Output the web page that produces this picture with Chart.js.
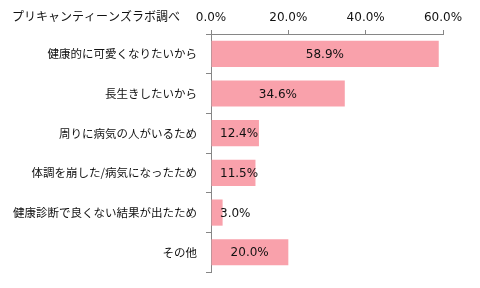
<!DOCTYPE html>
<html>
<head>
<meta charset="utf-8">
<script src="https://cdn.jsdelivr.net/npm/chart.js@4/dist/chart.umd.min.js"></script>
<style>
  html, body { margin: 0; padding: 0; background: #fff; }
  #wrap { position: relative; width: 480px; height: 288px; }
</style>
</head>
<body>
<div id="wrap"><canvas id="barChart"></canvas></div>
<script>
var categories = [
  '健康的に可愛くなりたいから',
  '長生きしたいから',
  '周りに病気の人がいるため',
  '体調を崩した/病気になったため',
  '健康診断で良くない結果が出たため',
  'その他'
];
var values = [58.9, 34.6, 12.4, 11.5, 3.0, 20.0];
var xTicks = [0, 20, 40, 60];
var sourceNote = 'プリキャンティーンズラボ調べ';

var labelFont = '"Noto Sans CJK JP", sans-serif';
var numFont = '"DejaVu Sans", Verdana, sans-serif';

// data labels: centered, but pushed right when too close to the axis
var valueLabels = {
  id: 'valueLabels',
  afterDatasetsDraw: function (chart) {
    var ctx = chart.ctx;
    var meta = chart.getDatasetMeta(0);
    var x0 = chart.scales.x.getPixelForValue(0);
    ctx.save();
    ctx.font = '12px ' + numFont;
    ctx.fillStyle = '#111';
    ctx.textAlign = 'center';
    ctx.textBaseline = 'middle';
    meta.data.forEach(function (bar, i) {
      var txt = values[i].toFixed(1) + '%';
      var w = ctx.measureText(txt).width;
      var cx = Math.max((x0 + bar.x) / 2, x0 + 9 + w / 2);
      ctx.fillText(txt, cx, bar.y + 1);
    });
    ctx.restore();
  }
};

var noteText = {
  id: 'noteText',
  afterDraw: function (chart) {
    var ctx = chart.ctx;
    ctx.save();
    ctx.font = '12px ' + labelFont;
    ctx.fillStyle = '#111';
    ctx.textBaseline = 'middle';
    ctx.fillText(sourceNote, 12, 16);
    ctx.restore();
  }
};

new Chart(document.getElementById('barChart'), {
  type: 'bar',
  data: {
    labels: categories,
    datasets: [{
      data: values,
      backgroundColor: '#F9A1AB',
      barPercentage: 0.66,
      categoryPercentage: 1.0
    }]
  },
  plugins: [valueLabels, noteText],
  options: {
    indexAxis: 'y',
    responsive: true,
    maintainAspectRatio: false,
    animation: false,
    layout: { padding: { left: 0, right: 37, top: 0, bottom: 15 } },
    plugins: {
      legend: { display: false },
      tooltip: { enabled: false }
    },
    scales: {
      x: {
        position: 'top',
        min: 0,
        max: 60,
        afterBuildTicks: function (scale) {
          scale.ticks = xTicks.map(function (v) { return { value: v }; });
        },
        afterFit: function (scale) { scale.height = 34; },
        grid: {
          drawOnChartArea: false,
          tickLength: 4,
          color: '#868686'
        },
        border: { color: '#868686' },
        ticks: {
          padding: 5,
          color: '#111',
          font: { family: numFont, size: 12 },
          callback: function (v) { return v.toFixed(1) + '%'; }
        }
      },
      y: {
        afterFit: function (scale) { scale.width = 211; },
        grid: {
          offset: true,
          drawOnChartArea: false,
          tickLength: 5,
          color: '#868686'
        },
        border: { color: '#868686' },
        ticks: {
          padding: 9,
          color: '#111',
          font: { family: labelFont, size: 11.5 }
        }
      }
    }
  }
});
</script>
</body>
</html>
